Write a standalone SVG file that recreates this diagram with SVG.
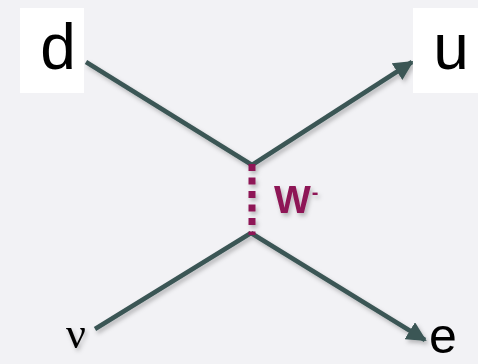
<svg xmlns="http://www.w3.org/2000/svg" width="478" height="364" viewBox="0 0 478 364">
<defs>
<style>
.ln{stroke:#3b5655;stroke-width:4.5;fill:none;stroke-linecap:butt}
.lbl{font-family:"Liberation Sans",Arial,sans-serif;font-size:64px;fill:#000}
.box{fill:#ffffff}
</style>
<marker id="ah" viewBox="0 0 10 10" refX="9" refY="5" markerWidth="4.4" markerHeight="4.4" markerUnits="strokeWidth" orient="auto">
<path d="M0,0 L10,5 L0,10 Z" fill="#3b5655"/>
</marker>
<filter id="sh" x="-10%" y="-10%" width="130%" height="130%">
<feDropShadow dx="2" dy="3" stdDeviation="2" flood-color="#000" flood-opacity="0.25"/>
</filter>
</defs>
<rect width="478" height="364" fill="#f2f2f5"/>
<g id="connectors" filter="url(#sh)">
<line class="ln" x1="86" y1="62" x2="252" y2="165"/>
<line class="ln" x1="252" y1="165" x2="412" y2="62" marker-end="url(#ah)"/>
<line class="ln" x1="95" y1="329" x2="251" y2="233"/>
<line class="ln" x1="251" y1="233" x2="425" y2="340" marker-end="url(#ah)"/>
<line x1="252" y1="164" x2="252" y2="235" stroke="#8e1956" stroke-width="7" stroke-dasharray="7,6.5"/>
</g>
<g id="node-d">
<rect class="box" x="20" y="8" width="64" height="85"/>
<text class="lbl" x="58" y="69" text-anchor="middle">d</text>
</g>
<g id="node-u">
<rect class="box" x="413" y="8" width="65" height="85"/>
<text class="lbl" x="451" y="69" text-anchor="middle">u</text>
</g>
<g id="node-W" filter="url(#sh)">
<text x="274" y="213" font-family="'Liberation Sans',Arial,sans-serif" font-weight="bold" font-size="39" fill="#8e1956">W<tspan font-size="20" dx="1" dy="-14">-</tspan></text>
</g>
<g id="node-nu" filter="url(#sh)">
<text x="76" y="348" text-anchor="middle" font-family="'Liberation Serif','Times New Roman',serif" font-size="44" fill="#000">ν</text>
</g>
<g id="node-e">
<text x="443" y="353" text-anchor="middle" font-family="'Liberation Sans',Arial,sans-serif" font-size="50" fill="#000">e</text>
</g>
</svg>
